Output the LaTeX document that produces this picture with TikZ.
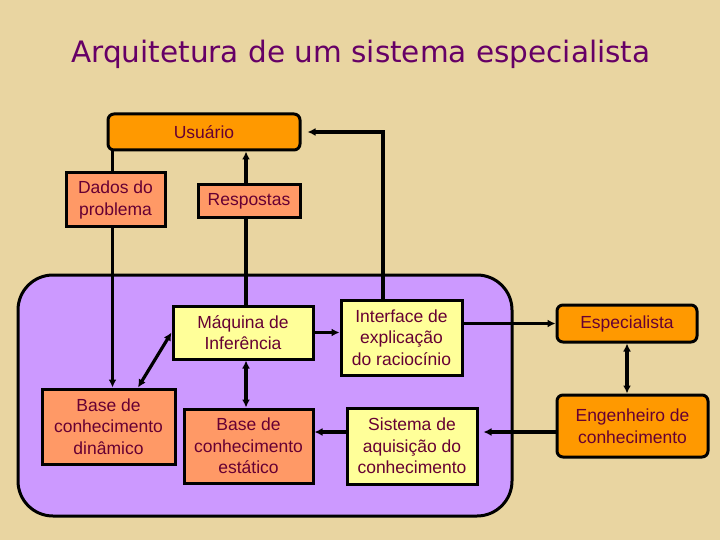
\documentclass[tikz,border=0pt]{standalone}
\usepackage{fontspec}
\setmainfont{Liberation Sans}
\newfontfamily\titlefont{DejaVu Sans}
\usetikzlibrary{arrows.meta}
\definecolor{bgc}{HTML}{E9D5A1}
\definecolor{orangec}{HTML}{FF9900}
\definecolor{salmonc}{HTML}{FF9966}
\definecolor{yellowc}{HTML}{FFFF99}
\definecolor{purplec}{HTML}{CC99FF}
\definecolor{txtc}{HTML}{660033}
\definecolor{titlec}{HTML}{660066}
\pgfdeclarelayer{back}
\pgfdeclarelayer{conns}
\pgfsetlayers{back,conns,main}
\tikzset{
  box/.style={draw=black, line width=3pt, inner sep=0pt, align=center,
    text=txtc, font=\fontsize{17.5}{21.5}\selectfont},
  yellowbox/.style={box, fill=yellowc},
  salmonbox/.style={box, fill=salmonc},
  orangebox/.style={box, fill=orangec, rounded corners=6pt},
  conn/.style={line width=3.2pt, draw=black},
  arr/.style={conn, -{Latex[length=8pt,width=8pt]}},
  dbl/.style={conn, {Latex[length=8pt,width=8pt]}-{Latex[length=8pt,width=8pt]}}
}
\begin{document}
\begin{tikzpicture}[x=1pt,y=-1pt]
\begin{pgfonlayer}{back}
\fill[bgc] (0,0) rectangle (720,540);
\draw[line width=3pt, fill=purplec, rounded corners=35pt] (18,275) rectangle (512,516);
\end{pgfonlayer}
\useasboundingbox (0,0) rectangle (720,540);

\node[text=titlec, font=\titlefont\fontsize{29.5}{34}\selectfont] (title) at (361,54) {Arquitetura de um sistema especialista};

\node[orangebox, minimum width=192pt, minimum height=36pt] (usr) at (204,132) {Usuário};
\node[salmonbox, minimum width=99pt, minimum height=54pt] (dados) at (115.5,200) {Dados do\\problema};
\node[salmonbox, minimum width=102pt, minimum height=33pt] (resp) at (249,201.5) {Respostas};
\node[yellowbox, minimum width=140pt, minimum height=53pt] (maq) at (243,332.5) {Máquina de\\Inferência};
\node[salmonbox, minimum width=133pt, minimum height=75pt] (bdin) at (108.5,426.5) {Base de\\conhecimento\\dinâmico};
\node[salmonbox, minimum width=129pt, minimum height=74pt] (best) at (248.5,446) {Base de\\conhecimento\\estático};
\node[yellowbox, minimum width=121pt, minimum height=75pt] (intf) at (401.5,337.5) {Interface de\\explicação\\do raciocínio};
\node[yellowbox, minimum width=130pt, minimum height=76pt] (sist) at (412,446) {Sistema de\\aquisição do\\conhecimento};
\node[orangebox, minimum width=140pt, minimum height=37pt] (esp) at (627,323.5) {Especialista};
\node[orangebox, minimum width=151pt, minimum height=62pt] (eng) at (632.5,426) {Engenheiro de\\conhecimento};

\begin{pgfonlayer}{conns}
\draw[arr] ([xshift=6pt]usr.south west) -- ([xshift=6pt]usr.south west |- bdin.north);
\draw[arr] ([xshift=3pt]maq.north) -- ([xshift=3pt]maq.north |- usr.south);
\draw[arr, shorten >=6pt] ([xshift=-18.5pt]intf.north) |- (usr.east);
\draw[arr] (maq.east) -- (maq.east -| intf.west);
\draw[arr] (intf.east |- esp.west) -- (esp.west);
\draw[dbl] (esp.south) -- (esp.south |- eng.north);
\draw[arr, shorten >=5pt] ([yshift=-6pt]eng.west) -- ([yshift=-6pt]eng.west -| sist.east);
\draw[arr] ([yshift=14pt]sist.west) -- ([yshift=14pt]sist.west -| best.east);
\draw[dbl] ([xshift=3pt]maq.south) -- ([xshift=3pt]maq.south |- best.north);
\draw[dbl] (maq.west) -- ([xshift=29.5pt]bdin.north);
\end{pgfonlayer}
\end{tikzpicture}
\end{document}
